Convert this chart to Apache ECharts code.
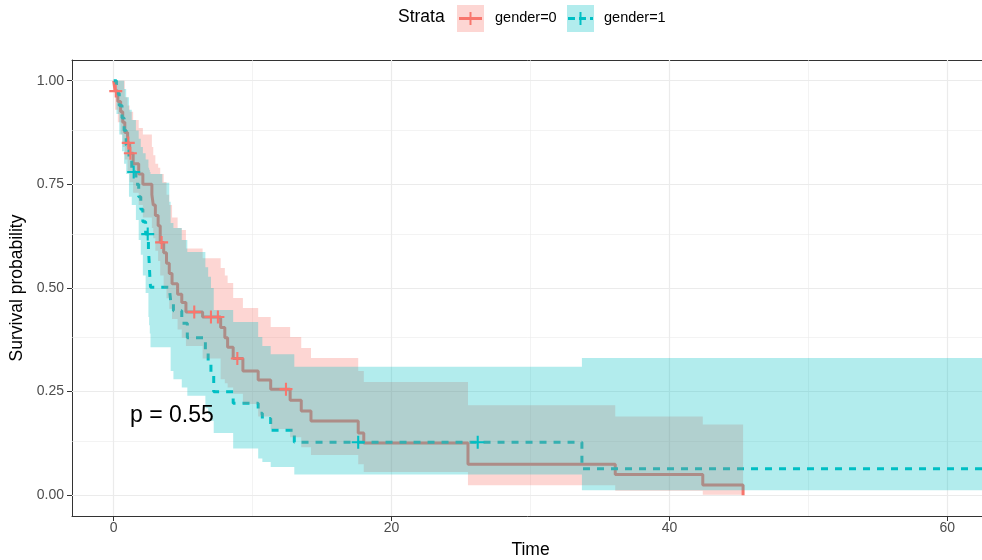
<!DOCTYPE html>
<html>
<head>
<meta charset="utf-8">
<script src="https://cdn.jsdelivr.net/npm/echarts@6/dist/echarts.min.js"></script>
<style>
  html, body { margin: 0; padding: 0; background: #fff; }
  #container { width: 982px; height: 560px; }
</style>
</head>
<body>
<div id="container"></div>
<script>
var dom = document.getElementById("container");
var myChart = echarts.init(dom);

// gender=0 (red): step times, survival, upper / lower confidence bound
var time0  = [0, 0.1, 0.3, 0.5, 0.65, 0.8, 1.0, 1.15, 1.4, 1.8,
              2.1, 2.75, 2.85, 3.0, 3.2, 3.35, 3.6, 3.8, 4.0, 4.2,
              4.6, 4.9, 5.2, 6.4, 7.7, 8.0, 8.2, 8.6, 9.3, 10.4,
              11.3, 12.7, 13.5, 14.2, 17.6, 18.0, 25.5, 36.1, 42.4, 45.3];
var surv0  = [1, 0.975, 0.95, 0.925, 0.9, 0.875, 0.85, 0.825, 0.8, 0.775,
              0.75, 0.725, 0.7, 0.675, 0.65, 0.61, 0.585, 0.56, 0.535, 0.51,
              0.485, 0.465, 0.442, 0.43, 0.405, 0.38, 0.357, 0.33, 0.3, 0.278,
              0.256, 0.229, 0.203, 0.179, 0.15, 0.126, 0.075, 0.05, 0.025, 0];
var upper0 = [1, 1, 1, 1, 1, 0.96, 0.94, 0.925, 0.905, 0.886,
              0.87, 0.84, 0.82, 0.8, 0.79, 0.775, 0.756, 0.725, 0.7, 0.67,
              0.645, 0.64, 0.595, 0.572, 0.548, 0.53, 0.512, 0.476, 0.452, 0.43,
              0.406, 0.382, 0.355, 0.331, 0.3, 0.273, 0.217, 0.19, 0.171, 0.171];
var lower0 = [1, 0.93, 0.9, 0.87, 0.84, 0.81, 0.78, 0.755, 0.73, 0.7,
              0.67, 0.645, 0.62, 0.59, 0.565, 0.53, 0.5, 0.475, 0.45, 0.425,
              0.4, 0.38, 0.36, 0.33, 0.28, 0.27, 0.26, 0.245, 0.22, 0.19,
              0.16, 0.14, 0.116, 0.097, 0.075, 0.056, 0.024, 0.011, 0.001, 0.001];
var censor0 = [[0.15, 0.975], [1.05, 0.85], [1.2, 0.825], [3.45, 0.61], [5.8, 0.442],
               [7.0, 0.43], [7.5, 0.43], [8.9, 0.33], [12.4, 0.256]];

// gender=1 (cyan)
var time1  = [0, 0.2, 0.4, 0.6, 0.75, 0.9, 1.1, 1.3, 1.6, 1.8,
              1.95, 2.1, 2.3, 2.5, 2.55, 2.6, 2.65, 3.5, 4.0, 4.1,
              4.3, 4.9, 5.3, 6.6, 6.8, 7.0, 7.2, 8.6, 10.4, 10.7,
              11.3, 13.0, 33.7, 63];
var surv1  = [1, 0.97, 0.94, 0.91, 0.88, 0.845, 0.81, 0.78, 0.75, 0.72,
              0.69, 0.66, 0.63, 0.595, 0.565, 0.53, 0.502, 0.502, 0.502, 0.47,
              0.445, 0.415, 0.38, 0.35, 0.32, 0.29, 0.25, 0.222, 0.198, 0.185,
              0.157, 0.128, 0.064, 0.064];
var upper1 = [1, 1, 1, 1, 0.98, 0.96, 0.93, 0.905, 0.88, 0.86,
              0.84, 0.825, 0.81, 0.79, 0.785, 0.78, 0.775, 0.754, 0.708, 0.657,
              0.645, 0.616, 0.587, 0.55, 0.527, 0.5, 0.447, 0.418, 0.382, 0.36,
              0.34, 0.31, 0.331, 0.331];
var lower1 = [1, 0.92, 0.87, 0.83, 0.8, 0.775, 0.72, 0.7, 0.664, 0.616,
              0.58, 0.53, 0.488, 0.43, 0.41, 0.39, 0.357, 0.357, 0.357, 0.3,
              0.28, 0.26, 0.24, 0.21, 0.195, 0.18, 0.15, 0.113, 0.089, 0.08,
              0.068, 0.05, 0.012, 0.012];
var censor1 = [[1.44, 0.78], [2.45, 0.63], [17.6, 0.128], [26.2, 0.128]];

// axes
var xTicks = [0, 20, 40, 60];
var xMinor = [10, 30, 50];
var yTicks = [0, 0.25, 0.5, 0.75, 1];
var yMinor = [0.125, 0.375, 0.625, 0.875];

var RED = '#F8766D', CYAN = '#00BFC4';
var FONT = 'Liberation Sans, Arial, sans-serif';
var PLUS = 'path://M4.2,0H5.8V4.2H10V5.8H5.8V10H4.2V5.8H0V4.2H4.2Z';
var BORDER = {show: true, onZero: false, lineStyle: {color: '#333333', width: 1}};

function pairs(t, v) {
    return t.map(function (x, i) { return [x, v[i]]; });
}

// step ribbon between upper and lower bound
function band(t, up, lo, fill) {
    return function (params, api) {
        var pts = [];
        for (var i = 0; i < t.length - 1; i++) {
            pts.push(api.coord([t[i], up[i]]));
            pts.push(api.coord([t[i + 1], up[i]]));
        }
        for (var j = t.length - 2; j >= 0; j--) {
            pts.push(api.coord([t[j + 1], lo[j]]));
            pts.push(api.coord([t[j], lo[j]]));
        }
        return {type: 'polygon', shape: {points: pts}, style: {fill: fill}};
    };
}

var gridLines = [];
xTicks.forEach(function (v) { gridLines.push({xAxis: v, lineStyle: {width: 1.2}}); });
xMinor.forEach(function (v) { gridLines.push({xAxis: v, lineStyle: {width: 0.6}}); });
yTicks.forEach(function (v) { gridLines.push({yAxis: v, lineStyle: {width: 1.2}}); });
yMinor.forEach(function (v) { gridLines.push({yAxis: v, lineStyle: {width: 0.6}}); });

option = {
    animation: false,
    textStyle: {fontFamily: FONT},
    grid: {left: 72, top: 60, width: 917, height: 456, outerBoundsMode: 'none', containLabel: false},
    xAxis: [{
        type: 'value', min: -3, max: 63,
        name: 'Time', nameLocation: 'middle', nameGap: 25,
        nameTextStyle: {fontSize: 17.5, color: '#000'},
        axisLine: BORDER,
        splitLine: {show: false},
        axisTick: {customValues: xTicks, length: 5, lineStyle: {color: '#333333'}},
        axisLabel: {customValues: xTicks, margin: 5, fontSize: 14, color: '#4d4d4d'}
    }, {
        type: 'value', min: -3, max: 63, position: 'top',
        axisLine: BORDER, axisTick: {show: false},
        axisLabel: {show: false}, splitLine: {show: false}
    }],
    yAxis: {
        type: 'value', min: -0.05, max: 1.05,
        name: 'Survival probability', nameLocation: 'middle', nameGap: 34,
        nameTextStyle: {fontSize: 17.5, color: '#000'},
        axisLine: BORDER,
        splitLine: {show: false},
        axisTick: {customValues: yTicks, length: 5, lineStyle: {color: '#333333'}},
        axisLabel: {
            customValues: yTicks, margin: 8, fontSize: 14, color: '#4d4d4d',
            formatter: function (v) { return v.toFixed(2); }
        }
    },
    graphic: [
        {type: 'text', left: 398, top: 8, style: {text: 'Strata', font: '17.5px ' + FONT, fill: '#000'}},
        {type: 'rect', shape: {x: 457, y: 5, width: 27, height: 27}, style: {fill: 'rgba(248,118,109,0.3)'}},
        {type: 'line', shape: {x1: 459, y1: 18.5, x2: 482, y2: 18.5}, style: {stroke: RED, lineWidth: 3}},
        {type: 'line', shape: {x1: 470.5, y1: 12, x2: 470.5, y2: 25}, style: {stroke: RED, lineWidth: 2}},
        {type: 'text', left: 495, top: 10, style: {text: 'gender=0', font: '14.5px ' + FONT, fill: '#000'}},
        {type: 'rect', shape: {x: 567, y: 5, width: 27, height: 27}, style: {fill: 'rgba(0,191,196,0.3)'}},
        {type: 'line', shape: {x1: 568, y1: 18.5, x2: 593, y2: 18.5}, style: {stroke: CYAN, lineWidth: 3, lineDash: [7, 4]}},
        {type: 'line', shape: {x1: 580.5, y1: 12, x2: 580.5, y2: 25}, style: {stroke: CYAN, lineWidth: 2}},
        {type: 'text', left: 604, top: 10, style: {text: 'gender=1', font: '14.5px ' + FONT, fill: '#000'}},
        {type: 'text', left: 130, top: 404, z: 10, style: {text: 'p = 0.55', font: '23px ' + FONT, fill: '#000'}}
    ],
    series: [
        {
            type: 'line', data: [], z: 1, silent: true,
            markLine: {
                z: 1, silent: true, symbol: ['none', 'none'], label: {show: false},
                lineStyle: {color: '#ebebeb', type: 'solid'},
                data: gridLines
            }
        },
        {
            name: 'gender=0', type: 'line', step: 'end', z: 2,
            showSymbol: false, data: pairs(time0, surv0),
            lineStyle: {color: RED, width: 3}
        },
        {
            name: 'gender=1', type: 'line', step: 'end', z: 2,
            showSymbol: false, data: pairs(time1, surv1),
            lineStyle: {color: CYAN, width: 3, type: [7, 7]}
        },
        {type: 'custom', z: 3, silent: true, data: [[0, 1]],
         renderItem: band(time0, upper0, lower0, 'rgba(248,118,109,0.3)')},
        {type: 'custom', z: 3, silent: true, data: [[0, 1]],
         renderItem: band(time1, upper1, lower1, 'rgba(0,191,196,0.3)')},
        {type: 'scatter', z: 4, symbol: PLUS, symbolSize: 13, data: censor0, itemStyle: {color: RED, opacity: 1}},
        {type: 'scatter', z: 4, symbol: PLUS, symbolSize: 13, data: censor1, itemStyle: {color: CYAN, opacity: 1}}
    ]
};

if (option && typeof option === "object") {
    myChart.setOption(option, true);
}
</script>
</body>
</html>
